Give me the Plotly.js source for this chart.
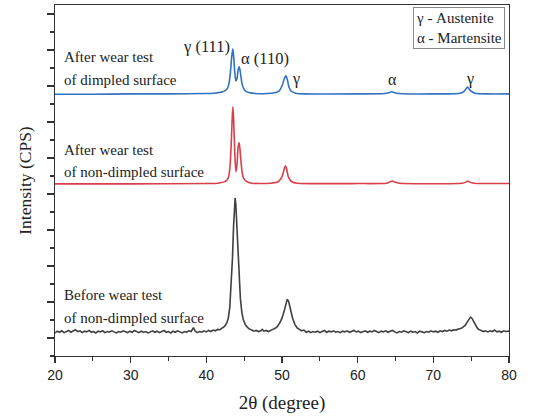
<!DOCTYPE html>
<html>
<head>
<meta charset="utf-8">
<script src="https://cdn.plot.ly/plotly-3.0.1.min.js"></script>
<style>html,body{margin:0;padding:0;background:#fff;}#chart{width:546px;height:419px;}</style>
</head>
<body>
<div id="chart"></div>
<script>
// 2θ (degree) / offset intensity pairs
const dimpledAfter = [
  [20,7.27],[25,7.27],[30,7.28],[35,7.28],[40,7.29],[41,7.30],[42,7.33],[42.5,7.37],[42.8,7.44],
  [43.0,7.58],[43.2,7.92],[43.35,8.30],[43.5,8.53],[43.62,8.30],[43.75,7.90],[43.9,7.64],
  [44.05,7.70],[44.2,7.94],[44.35,8.03],[44.5,7.88],[44.7,7.58],[44.9,7.44],[45.2,7.36],
  [45.6,7.32],[46.5,7.29],[48,7.29],[49,7.31],[49.6,7.36],[50.0,7.50],[50.3,7.70],[50.5,7.78],
  [50.7,7.68],[50.9,7.48],[51.2,7.36],[51.8,7.30],[53,7.28],[60,7.28],[63.5,7.29],[64.2,7.32],
  [64.5,7.34],[64.8,7.32],[65.5,7.29],[70,7.28],[73.5,7.30],[74.1,7.36],[74.5,7.47],[74.9,7.37],
  [75.5,7.30],[77,7.28],[80,7.28]
];
const nonDimpledAfter = [
  [20,4.78],[30,4.78],[40,4.79],[41.5,4.80],[42.5,4.85],[42.9,4.95],[43.1,5.20],[43.25,5.70],
  [43.4,6.50],[43.5,6.92],[43.6,6.60],[43.75,5.70],[43.9,5.12],[44.05,5.30],[44.2,5.80],
  [44.35,5.92],[44.5,5.60],[44.7,5.15],[44.9,4.95],[45.3,4.85],[46,4.80],[48.5,4.80],[49.5,4.84],
  [50.0,4.98],[50.3,5.20],[50.45,5.28],[50.6,5.20],[50.85,4.97],[51.3,4.84],[52,4.80],[60,4.79],
  [63.8,4.80],[64.3,4.84],[64.6,4.86],[64.9,4.83],[65.5,4.80],[73.8,4.80],[74.3,4.83],
  [74.55,4.86],[74.8,4.83],[75.4,4.80],[80,4.79]
];
const nonDimpledBefore = [
  [20.0,0.64],[20.3,0.69],[20.6,0.66],[20.9,0.70],[21.2,0.65],[21.5,0.68],[21.8,0.71],[22.1,0.66],
  [22.4,0.69],[22.7,0.73],[23.0,0.68],[23.3,0.70],[23.6,0.65],[23.9,0.69],[24.2,0.67],[24.5,0.71],
  [24.8,0.66],[25.1,0.68],[25.4,0.64],[25.7,0.69],[26.0,0.67],[26.3,0.70],[26.6,0.65],[26.9,0.68],
  [27.2,0.66],[27.5,0.70],[27.8,0.67],[28.1,0.64],[28.4,0.68],[28.7,0.66],[29.0,0.70],[29.3,0.67],
  [29.6,0.65],[29.9,0.69],[30.2,0.66],[30.5,0.71],[30.8,0.68],[31.1,0.65],[31.4,0.69],[31.7,0.66],
  [32.0,0.68],[32.3,0.64],[32.6,0.67],[32.9,0.70],[33.2,0.66],[33.5,0.69],[33.8,0.65],[34.1,0.68],
  [34.4,0.71],[34.7,0.66],[35.0,0.68],[35.3,0.64],[35.6,0.69],[35.9,0.66],[36.2,0.70],[36.5,0.67],
  [36.8,0.64],[37.1,0.68],[37.4,0.66],[37.7,0.70],[38.0,0.68],[38.3,0.79],[38.5,0.70],[38.8,0.65],
  [39.1,0.68],[39.4,0.66],[39.7,0.70],[40.0,0.67],[40.3,0.71],[40.6,0.68],[40.9,0.72],[41.2,0.70],
  [41.5,0.74],[41.8,0.73],[42.1,0.78],[42.4,0.82],[42.7,0.92],[42.9,1.05],[43.1,1.35],[43.3,1.95],
  [43.45,2.70],[43.6,3.60],[43.7,4.10],[43.8,4.39],[43.9,4.20],[44.0,3.80],[44.15,3.00],[44.3,2.25],
  [44.5,1.60],[44.7,1.20],[44.9,1.00],[45.2,0.85],[45.6,0.76],[46.0,0.72],[46.3,0.69],[46.6,0.71],
  [46.9,0.68],[47.2,0.70],[47.4,0.74],[47.6,0.69],[47.9,0.71],[48.2,0.68],[48.5,0.72],[48.8,0.74],
  [49.1,0.77],[49.4,0.82],[49.7,0.92],[50.0,1.05],[50.25,1.22],[50.5,1.45],[50.7,1.58],[50.9,1.50],
  [51.1,1.30],[51.4,1.05],[51.7,0.88],[52.0,0.78],[52.3,0.74],[52.6,0.70],[52.9,0.72],[53.2,0.66],
  [53.5,0.69],[53.8,0.65],[54.1,0.68],[54.4,0.66],[54.7,0.69],[55.0,0.65],[55.3,0.68],[55.6,0.71],
  [55.9,0.66],[56.2,0.69],[56.5,0.67],[56.8,0.70],[57.1,0.66],[57.4,0.68],[57.7,0.65],[58.0,0.69],
  [58.3,0.67],[58.6,0.70],[58.9,0.66],[59.2,0.68],[59.5,0.71],[59.8,0.67],[60.1,0.69],[60.4,0.65],
  [60.7,0.68],[61.0,0.70],[61.3,0.66],[61.6,0.69],[61.9,0.67],[62.2,0.71],[62.5,0.68],[62.8,0.65],
  [63.1,0.69],[63.4,0.67],[63.7,0.70],[64.0,0.66],[64.3,0.69],[64.6,0.71],[64.9,0.67],[65.2,0.64],
  [65.5,0.68],[65.8,0.66],[66.1,0.70],[66.4,0.67],[66.7,0.65],[67.0,0.69],[67.3,0.66],[67.6,0.68],
  [67.9,0.64],[68.2,0.69],[68.5,0.67],[68.8,0.65],[69.1,0.68],[69.4,0.66],[69.7,0.70],[70.0,0.67],
  [70.3,0.69],[70.6,0.66],[70.9,0.70],[71.2,0.68],[71.5,0.71],[71.8,0.69],[72.1,0.72],[72.4,0.70],
  [72.7,0.73],[73.0,0.72],[73.3,0.75],[73.7,0.77],[74.2,0.85],[74.6,0.98],[74.9,1.08],[75.1,1.05],
  [75.4,0.92],[75.8,0.78],[76.0,0.74],[76.3,0.71],[76.6,0.68],[76.9,0.70],[77.2,0.67],[77.5,0.70],
  [77.8,0.68],[78.1,0.72],[78.4,0.67],[78.7,0.69],[79.0,0.66],[79.3,0.70],[79.6,0.68],[80.0,0.69]
];
const xTickVals = [20,30,40,50,60,70,80];
const xTickText = ['20','30','40','50','60','70','80'];

const serif = 'Liberation Serif, Times New Roman, serif';
function trace(d, color, shape) {
  return {x: d.map(p => p[0]), y: d.map(p => p[1]), mode: 'lines', type: 'scatter',
    line: {color: color, width: 1.6, shape: shape, smoothing: 0.6}, hoverinfo: 'skip'};
}
const data = [
  trace(nonDimpledBefore, '#404040', 'linear'),
  trace(nonDimpledAfter, '#d8414a', 'spline'),
  trace(dimpledAfter, '#3272c2', 'spline')
];
function txt(t, x, y, anchor, size) {
  return {text: t, x: x, y: y, xref: 'x', yref: 'y', showarrow: false, xanchor: anchor || 'left',
    yanchor: 'middle', font: {family: serif, size: size || 15, color: '#222'}};
}
function px2x(p) { return 20 + (p - 55) / 7.567; }
function py2y(p) { return (356 - p) / 36; }
const annotations = [
  txt('After wear test', px2x(62), py2y(57)),
  txt('of dimpled surface', px2x(62), py2y(80)),
  txt('After wear test', px2x(62), py2y(150)),
  txt('of non-dimpled surface', px2x(62), py2y(172)),
  txt('Before wear test', px2x(62), py2y(295)),
  txt('of non-dimpled surface', px2x(62), py2y(318)),
  txt('γ (111)', px2x(207), py2y(46), 'center', 16.5),
  txt('α (110)', px2x(265), py2y(58), 'center', 16.5),
  txt('γ', px2x(296), py2y(79), 'center', 16),
  txt('α', px2x(393), py2y(79), 'center', 16),
  txt('γ', px2x(470), py2y(79), 'center', 16),
  {text: 'γ - Austenite<br>α - Martensite', xref: 'paper', yref: 'paper', x: 0.991, y: 0.994,
   xanchor: 'right', yanchor: 'top', align: 'left', showarrow: false,
   font: {family: serif, size: 15, color: '#222'}, bordercolor: '#8a8a8a', borderwidth: 1,
   borderpad: 2, bgcolor: '#fff'}
];
const layout = {
  width: 546, height: 419,
  margin: {l: 55, r: 37, t: 5, b: 63},
  paper_bgcolor: '#fff', plot_bgcolor: '#fff',
  showlegend: false,
  xaxis: {
    range: [20, 80], tickvals: xTickVals, ticktext: xTickText,
    ticks: 'outside', ticklen: 6, tickwidth: 1.2, tickcolor: '#333',
    minor: {dtick: 5, ticks: 'outside', ticklen: 4, tickwidth: 1.2, tickcolor: '#333'},
    showline: true, linecolor: '#333', linewidth: 1.3, mirror: true,
    showgrid: false, zeroline: false,
    tickfont: {family: 'Liberation Sans, Arial, sans-serif', size: 14, color: '#222'},
    title: {text: '2θ (degree)', font: {family: serif, size: 19, color: '#222'}, standoff: 13}
  },
  yaxis: {
    range: [0, 9.75], tick0: 0.5, dtick: 1, showticklabels: false,
    ticks: 'outside', ticklen: 7, tickwidth: 1.2, tickcolor: '#333',
    minor: {dtick: 0.5, ticks: 'outside', ticklen: 4, tickwidth: 1.2, tickcolor: '#333'},
    showline: true, linecolor: '#333', linewidth: 1.3, mirror: true,
    showgrid: false, zeroline: false,
    title: {text: 'Intensity (CPS)', font: {family: serif, size: 17.5, color: '#222'}, standoff: 10}
  },
  annotations: annotations
};
Plotly.newPlot('chart', data, layout, {staticPlot: true, displayModeBar: false});
</script>
</body>
</html>
